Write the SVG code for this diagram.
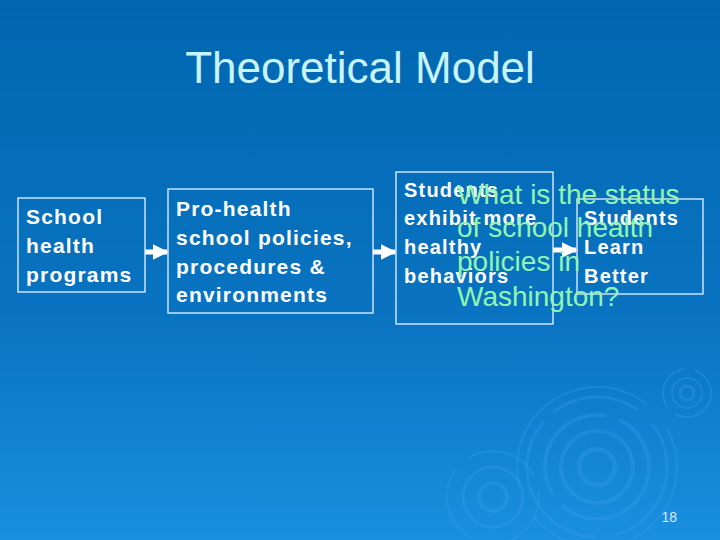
<svg xmlns="http://www.w3.org/2000/svg" width="720" height="540" viewBox="0 0 720 540">
<defs>
<linearGradient id="bg" x1="0" y1="0" x2="0" y2="1">
<stop offset="0" stop-color="#0066b0"/>
<stop offset="0.6" stop-color="#0a74c2"/>
<stop offset="1" stop-color="#1a8fe0"/>
</linearGradient>
<marker id="ah" viewBox="0 0 10 10" refX="9" refY="5" markerWidth="3.2" markerHeight="3.2" orient="auto" markerUnits="strokeWidth">
<path d="M0,0 L10,5 L0,10 z" fill="#ffffff"/>
</marker>
<style>
.box{fill:none;stroke:#e8f4ff;stroke-width:1.3}
.t{font-family:"Liberation Sans",Arial,sans-serif;font-weight:bold;fill:#ffffff;font-size:21px;letter-spacing:1.2px}
.s{font-size:20px}
.ov{font-family:"Liberation Sans",Arial,sans-serif;fill:#8ff5b0;font-size:28px}
.conn{stroke:#ffffff;stroke-width:5;fill:none;marker-end:url(#ah)}
.rip{fill:none;stroke:#3aa0f0;opacity:0.3}
</style>
</defs>
<rect width="720" height="540" fill="url(#bg)"/>
<g id="ripples">
<circle class="rip" cx="597" cy="467" r="18" stroke-width="5"/>
<circle class="rip" cx="597" cy="467" r="36" stroke-width="4"/>
<circle class="rip" cx="597" cy="467" r="52" stroke-width="4" stroke-dasharray="120 14"/>
<circle class="rip" cx="597" cy="467" r="70" stroke-width="3" stroke-dasharray="90 20 160 12"/>
<circle class="rip" cx="597" cy="467" r="80" stroke-width="2" stroke-dasharray="200 30"/>
<circle class="rip" cx="687" cy="393" r="7" stroke-width="3"/>
<circle class="rip" cx="687" cy="393" r="15" stroke-width="2"/>
<circle class="rip" cx="687" cy="393" r="24" stroke-width="2" stroke-dasharray="50 10"/>
<circle class="rip" cx="493" cy="497" r="14" stroke-width="4"/>
<circle class="rip" cx="493" cy="497" r="30" stroke-width="3"/>
<circle class="rip" cx="493" cy="497" r="46" stroke-width="2" stroke-dasharray="80 14"/>
</g>
<text x="360" y="83" text-anchor="middle" font-family="Liberation Sans,Arial,sans-serif" font-size="44" fill="#c8f4ff">Theoretical Model</text>
<g id="connectors">
<line class="conn" x1="145" y1="252" x2="167" y2="252"/>
<line class="conn" x1="373" y1="252" x2="395" y2="252"/>
<line class="conn" x1="553" y1="250" x2="576" y2="250"/>
</g>
<g id="n1">
<rect class="box" x="18" y="198" width="127" height="94"/>
<text class="t" x="26" y="224">School</text>
<text class="t" x="26" y="253">health</text>
<text class="t" x="26" y="282">programs</text>
</g>
<g id="n2">
<rect class="box" x="168" y="189" width="205" height="124"/>
<text class="t" x="176" y="216">Pro-health</text>
<text class="t" x="176" y="245">school policies,</text>
<text class="t" x="176" y="274">procedures &amp;</text>
<text class="t" x="176" y="302">environments</text>
</g>
<g id="n3">
<rect class="box" x="396" y="172" width="157" height="152"/>
<text class="t s" x="404" y="197">Students</text>
<text class="t s" x="404" y="225">exhibit more</text>
<text class="t s" x="404" y="254">healthy</text>
<text class="t s" x="404" y="283">behaviors</text>
</g>
<g id="n4">
<rect class="box" x="577" y="199" width="126" height="95"/>
<text class="t s" x="584" y="225">Students</text>
<text class="t s" x="584" y="254">Learn</text>
<text class="t s" x="584" y="283">Better</text>
</g>
<g id="question">
<text class="ov" x="457" y="204">What is the status</text>
<text class="ov" x="457" y="237">of school health</text>
<text class="ov" x="457" y="271">policies in</text>
<text class="ov" x="457" y="306">Washington?</text>
</g>
<text x="677" y="522" text-anchor="end" font-family="Liberation Sans,Arial,sans-serif" font-size="14" fill="#d8ecff">18</text>
</svg>
